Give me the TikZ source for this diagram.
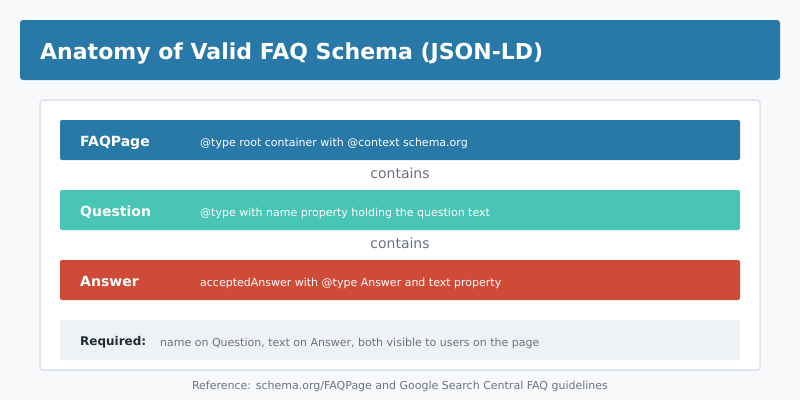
\documentclass[tikz,border=0pt]{standalone}
\usepackage{fontspec}
\setmainfont{DejaVu Sans}
\usepackage{tikz}
\usetikzlibrary{positioning,
				calc}

\definecolor{pagebg}{HTML}{F8F9FB}
\definecolor{headblue}{HTML}{2878A8}
\definecolor{qteal}{HTML}{48C5B4}
\definecolor{ared}{HTML}{D04A38}
\definecolor{panelline}{HTML}{DDE3EA}
\definecolor{reqbg}{HTML}{EEF2F7}
\definecolor{greytext}{HTML}{6B7280}
\definecolor{darktext}{HTML}{1F2937}

\tikzset{
	bar/.style={rounded corners=2pt, inner sep=0pt, minimum width=680pt, minimum height=40pt},
	barlabel/.style={anchor=base west, text=white, font=\fontsize{14}{16}\selectfont\bfseries, inner sep=0pt},
	bardesc/.style={anchor=base west, text=white, font=\fontsize{11}{13}\selectfont, inner sep=0pt},
	linktext/.style={anchor=base, text=greytext, font=\fontsize{14}{16}\selectfont, inner sep=0pt}
}

\begin{document}
\begin{tikzpicture}[x=1pt,y=-1pt]
	\fill[pagebg] (0,0) rectangle (800,400);
	\useasboundingbox (0,0) rectangle (800,400);

	% title bar
	\fill[headblue, rounded corners=3pt] (20,20) rectangle (780,80);
	\node[anchor=base west, text=white, font=\fontsize{22}{26}\selectfont\bfseries, inner sep=0pt] (title) at (40,59) {Anatomy of Valid FAQ Schema (JSON-LD)};

	% panel
	\filldraw[fill=white, draw=panelline, line width=1.5pt, rounded corners=3pt] (40,100) rectangle (760,370);

	\node[bar, fill=headblue] (faqpage) at (400,140) {};
	\node[barlabel] (faqname) at (80,146) {FAQPage};
	\node[bardesc] (faqdesc) at (200,146) {@type root container with @context schema.org};

	\node[linktext] (link1) at (400,178) {contains};

	\node[bar, fill=qteal] (question) at (400,210) {};
	\node[barlabel] (qname) at (80,216) {Question};
	\node[bardesc] (qdesc) at (200,216) {@type with name property holding the question text};

	\node[linktext] (link2) at (400,248) {contains};

	\node[bar, fill=ared] (answer) at (400,280) {};
	\node[barlabel] (aname) at (80,286) {Answer};
	\node[bardesc] (adesc) at (200,286) {acceptedAnswer with @type Answer and text property};

	\node[bar, fill=reqbg] (required) at (400,340) {};
	\node[anchor=base west, text=darktext, font=\fontsize{12}{14}\selectfont\bfseries, inner sep=0pt] (reqname) at (80,345.5) {Required:};
	\node[anchor=base west, text=greytext, font=\fontsize{11}{13}\selectfont, inner sep=0pt] (reqdesc) at (160,346) {name on Question, text on Answer, both visible to users on the page};

	\node[anchor=base, text=greytext, font=\fontsize{11}{13}\selectfont, inner sep=0pt] (footer) at (400,389) {Reference: schema.org/FAQPage and Google Search Central FAQ guidelines};
\end{tikzpicture}
\end{document}
